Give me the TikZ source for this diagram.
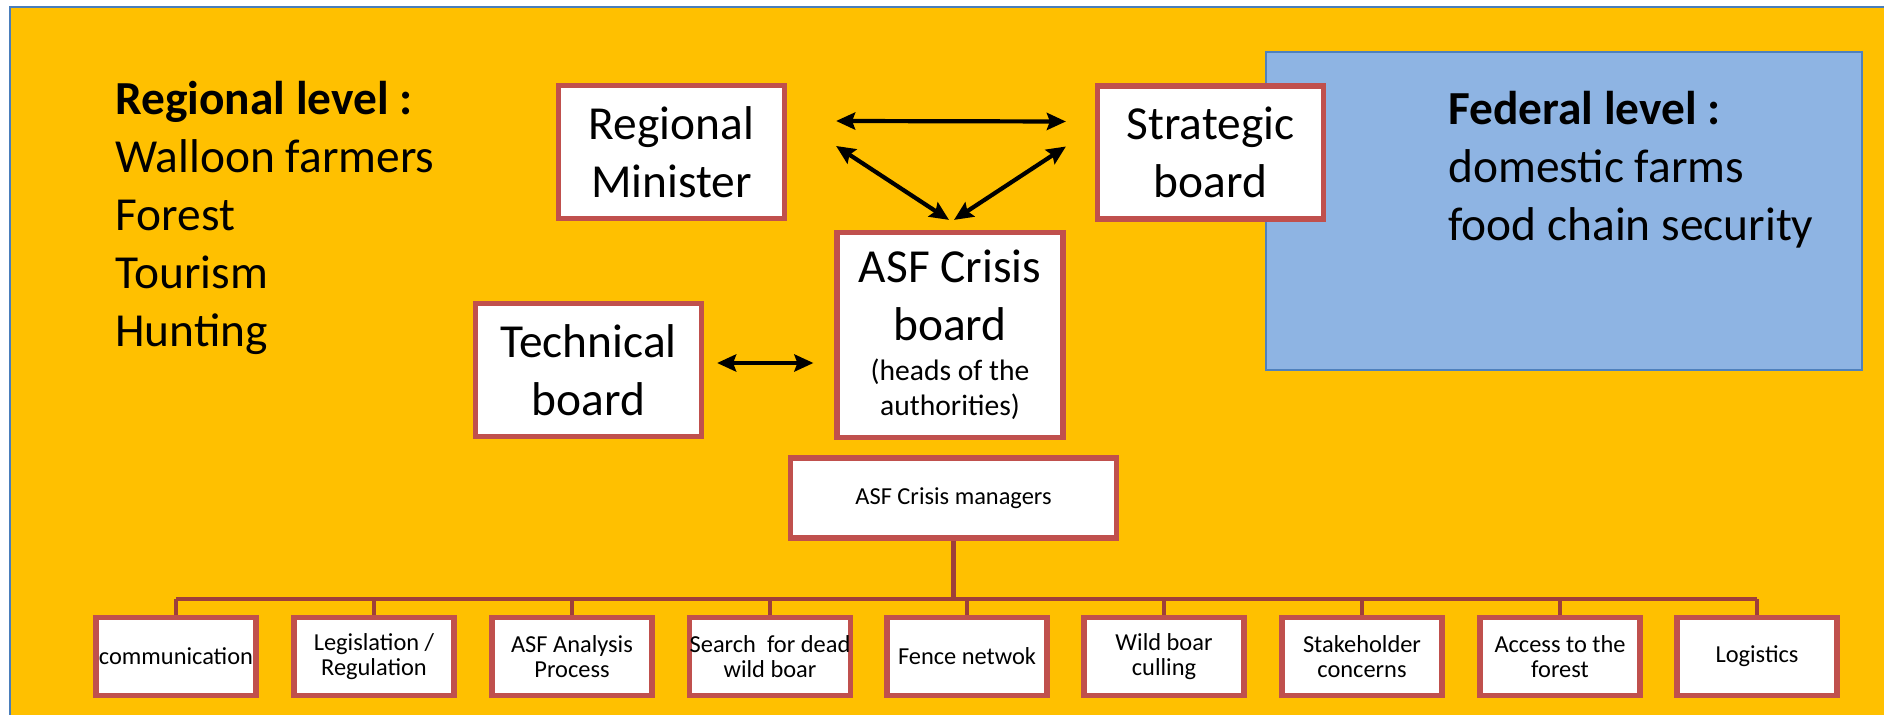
\documentclass[tikz,border=0pt]{standalone}
\usepackage{fontspec}
\setmainfont{Carlito}
\usetikzlibrary{arrows.meta}
\definecolor{slide}{HTML}{FFC000}
\definecolor{frameblue}{HTML}{4A7EBB}
\definecolor{fedblue}{HTML}{8EB4E3}
\definecolor{fededge}{HTML}{4F81BD}
\definecolor{boxred}{HTML}{C0504D}
\definecolor{busred}{HTML}{9E3F3B}
\newcommand{\bigtxt}{\fontsize{23.7}{29}\selectfont}
\newcommand{\midtxt}{\fontsize{14.8}{17.5}\selectfont}
\newcommand{\smalltxt}{\fontsize{12.2}{12.5}\selectfont}

\begin{document}
\begin{tikzpicture}[x=0.5pt, y=-0.5pt, >={Stealth[length=9.5pt,width=8.5pt,inset=1.5pt]},
		board/.style={draw=boxred, line width=2.6pt, fill=white, inner sep=0pt, align=center, font=\bigtxt, minimum width=113pt, minimum height=66.5pt},
		task/.style={draw=boxred, line width=2.6pt, fill=white, inner sep=0pt, align=center, font=\smalltxt, minimum width=80pt, minimum height=39pt},
		link/.style={<->, line width=2.1pt},
		bus/.style={draw=busred, line width=2.3pt}]
	\useasboundingbox (0,0) rectangle (1884,715);
	% 1. background (bottom layer)
	\draw[fill=slide, draw=frameblue, line width=1.2pt] (10,7) rectangle (1895,725);
	\draw[fill=fedblue, draw=fededge, line width=1.2pt] (1266,52) rectangle (1862,370);
	
	% 2. level texts
	\node[anchor=north west, inner sep=0pt, align=left, font=\bigtxt] (regional) at (115,81) {\textbf{Regional level :}\\Walloon farmers\\Forest\\Tourism\\Hunting};
	\node[anchor=north west, inner sep=0pt, align=left, font=\bigtxt] (federal) at (1448,91) {\textbf{Federal level :}\\domestic farms\\food chain security};
	
	% 3. boards
	\node[board] (minister) at (671.5,152) {Regional\\Minister};
	\node[board] (strategic) at (1210.5,152.5) {Strategic\\board};
	\node[board, minimum height=102.5pt] (crisis) at (950,335) {ASF Crisis\\board\\[-9pt]{\midtxt (heads of the}\\[-11.5pt]{\midtxt authorities)}};
	\node[board] (technical) at (588.5,370) {Technical\\board};
	
	% 4. arrows between boards
	\draw[link] ([xshift=24.5pt,yshift=15.5pt]minister.east) -- ([xshift=-14.5pt,yshift=15.5pt]strategic.west);
	\draw[link] ([xshift=24.5pt,yshift=3pt]minister.east) -- ([xshift=-0.5pt,yshift=5pt]crisis.north);
	\draw[link] ([xshift=-14.5pt,yshift=3pt]strategic.west) -- ([xshift=2pt,yshift=5pt]crisis.north);
	\draw[link] ([xshift=6.5pt,yshift=3.5pt]technical.east) -- ([xshift=-10.5pt,yshift=-14pt]crisis.west);
	
	% 5. crisis managers and tasks
	\node[task, minimum width=163pt, minimum height=40pt] (managers) at (953.5,498) {ASF Crisis managers};
	\node[task] (comm) at (176,656.5) {communication};
	\node[task] (legis) at (374,656.5) {Legislation /\\Regulation};
	\node[task] (analysis) at (572,656.5) {ASF Analysis\\Process};
	\node[task] (search) at (770,656.5) {Search\ \ for dead\\wild boar};
	\node[task] (fence) at (967,656.5) {Fence netwok};
	\node[task] (culling) at (1164,656.5) {Wild boar\\culling};
	\node[task] (stake) at (1362,656.5) {Stakeholder\\concerns};
	\node[task] (access) at (1560,656.5) {Access to the\\forest};
	\node[task] (logist) at (1757,656.5) {Logistics};
	
	% 6. tree lines
	\coordinate (bus) at (953,599);
	\draw[bus] (managers.south) -- (managers.south |- bus);
	\draw[bus] (comm.north |- bus) -- (logist.north |- bus);
	\draw[bus] (comm.north) -- (comm.north |- bus) (legis.north) -- (legis.north |- bus)
		(analysis.north) -- (analysis.north |- bus) (search.north) -- (search.north |- bus)
		(fence.north) -- (fence.north |- bus) (culling.north) -- (culling.north |- bus)
		(stake.north) -- (stake.north |- bus) (access.north) -- (access.north |- bus)
		(logist.north) -- (logist.north |- bus);
\end{tikzpicture}
\end{document}
